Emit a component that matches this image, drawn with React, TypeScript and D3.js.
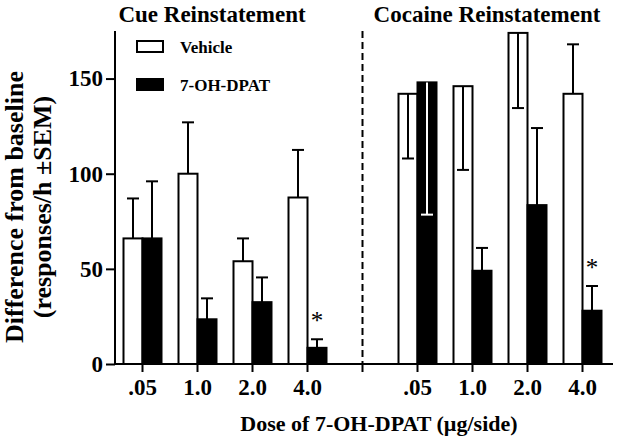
import React, { useEffect, useRef } from "react";
import * as d3 from "d3";

const doses = [".05", "1.0", "2.0", "4.0"];
const panels = ["Cue Reinstatement", "Cocaine Reinstatement"];

// Cue reinstatement
const cueVehicle = [66, 100, 54, 87.5];
const cueVehicleErr = [21, 27, 12, 25];
const cueDpat = [66, 23.5, 32.5, 8.5];
const cueDpatErr = [30, 11, 13, 4.5];

// Cocaine reinstatement (some error bars drawn downward)
const cocVehicle = [142, 146, 174, 142];
const cocVehicleErr = [34, 44, 39.5, 26];
const cocVehicleSide = ["down", "down", "down", "up"];
const cocDpat = [148, 49, 83.5, 28];
const cocDpatErr = [69.5, 12, 40.5, 13];
const cocDpatSide = ["down", "up", "up", "up"];

const cueDpatSig = [false, false, false, true];
const cocDpatSig = [false, false, false, true];

const yTicks = [0, 50, 100, 150];

const FONT = "'Liberation Serif', 'Times New Roman', serif";

export default function App() {
  const ref = useRef<SVGSVGElement>(null);

  useEffect(() => {
    const width = 619;
    const height = 440;
    const svg = d3.select(ref.current);
    svg.selectAll("*").remove();

    const slots = [
      ...doses.map(d => "cue" + d),
      "gap",
      ...doses.map(d => "coc" + d),
    ];

    const x = d3.scaleBand().domain(slots).range([115, 610]).padding(0);
    const y = d3.scaleLinear().domain([0, 175]).range([364, 31]);
    const barW = 19;

    const rows = [
      ...doses.map((d, i) => ({
        key: "cue" + d,
        veh: cueVehicle[i], vehErr: cueVehicleErr[i], vehSide: "up",
        dp: cueDpat[i], dpErr: cueDpatErr[i], dpSide: "up",
        sig: cueDpatSig[i],
      })),
      ...doses.map((d, i) => ({
        key: "coc" + d,
        veh: cocVehicle[i], vehErr: cocVehicleErr[i], vehSide: cocVehicleSide[i],
        dp: cocDpat[i], dpErr: cocDpatErr[i], dpSide: cocDpatSide[i],
        sig: cocDpatSig[i],
      })),
    ];

    const cx = (k: string) => (x(k) as number) + x.bandwidth() / 2;

    // bars
    const g = svg.append("g");
    g.selectAll("rect.veh")
      .data(rows)
      .join("rect")
      .attr("class", "veh")
      .attr("x", d => cx(d.key) - barW)
      .attr("y", d => y(d.veh))
      .attr("width", barW)
      .attr("height", d => y(0) - y(d.veh))
      .attr("fill", "white")
      .attr("stroke", "black")
      .attr("stroke-width", 2);

    g.selectAll("rect.dp")
      .data(rows)
      .join("rect")
      .attr("class", "dp")
      .attr("x", d => cx(d.key))
      .attr("y", d => y(d.dp))
      .attr("width", barW)
      .attr("height", d => y(0) - y(d.dp))
      .attr("fill", "black")
      .attr("stroke", "black")
      .attr("stroke-width", 2);

    // error bars
    const errs = rows.flatMap(d => [
      { xc: cx(d.key) - barW / 2, v: d.veh, e: d.vehErr, side: d.vehSide, color: "black" },
      {
        xc: cx(d.key) + barW / 2, v: d.dp, e: d.dpErr, side: d.dpSide,
        color: d.dpSide === "down" ? "white" : "black",
      },
    ]);
    const eg = svg.append("g").attr("stroke-width", 2);
    errs.forEach(d => {
      const end = d.side === "up" ? d.v + d.e : d.v - d.e;
      eg.append("line")
        .attr("x1", d.xc).attr("x2", d.xc)
        .attr("y1", y(d.v)).attr("y2", y(end))
        .attr("stroke", d.color);
      eg.append("line")
        .attr("x1", d.xc - 6).attr("x2", d.xc + 6)
        .attr("y1", y(end)).attr("y2", y(end))
        .attr("stroke", d.color);
    });

    // significance stars
    svg.append("g")
      .selectAll("text")
      .data(rows.filter(d => d.sig))
      .join("text")
      .attr("x", d => cx(d.key) + barW / 2)
      .attr("y", d => y(d.dp + d.dpErr) - 10)
      .attr("text-anchor", "middle")
      .attr("font-family", FONT)
      .attr("font-size", 25)
      .attr("fill", "black")
      .text("*");

    // dashed separator
    svg.append("line")
      .attr("x1", cx("gap")).attr("x2", cx("gap"))
      .attr("y1", y(175)).attr("y2", y(0))
      .attr("stroke", "black")
      .attr("stroke-width", 2)
      .attr("stroke-dasharray", "7,4");

    // y axis
    const yAxis = svg.append("g")
      .attr("transform", "translate(115,0)")
      .call(d3.axisLeft(y).tickValues(yTicks).tickSize(9).tickSizeOuter(0).tickPadding(3));
    yAxis.select(".domain").remove();
    yAxis.append("line")
      .attr("x1", 0).attr("x2", 0)
      .attr("y1", y(175)).attr("y2", y(0))
      .attr("stroke", "black").attr("stroke-width", 2);

    // x axis
    const xAxis = svg.append("g")
      .attr("transform", `translate(0,${y(0)})`)
      .call(
        d3.axisBottom(x)
          .tickSize(8)
          .tickSizeOuter(0)
          .tickPadding(7)
          .tickFormat(d => (d === "gap" ? "" : (d as string).slice(3)))
      );
    xAxis.select(".domain").remove();
    xAxis.append("line")
      .attr("x1", 114).attr("x2", 613)
      .attr("y1", 0).attr("y2", 0)
      .attr("stroke", "black").attr("stroke-width", 2);

    [yAxis, xAxis].forEach(a => {
      a.selectAll(".tick line").attr("stroke-width", 2);
      a.selectAll(".tick text")
        .attr("font-family", FONT)
        .attr("font-weight", "bold")
        .attr("font-size", 23)
        .attr("fill", "black");
    });

    // titles
    svg.append("g")
      .selectAll("text")
      .data(panels)
      .join("text")
      .attr("x", (d, i) => (i === 0 ? 212 : 487))
      .attr("y", 22)
      .attr("text-anchor", "middle")
      .attr("font-family", FONT)
      .attr("font-weight", "bold")
      .attr("font-size", 23)
      .text(d => d);

    // legend
    const legend = svg.append("g")
      .attr("font-family", FONT)
      .attr("font-weight", "bold")
      .attr("font-size", 17);
    [
      { label: "Vehicle", fill: "white", yy: 41 },
      { label: "7-OH-DPAT", fill: "black", yy: 79 },
    ].forEach(d => {
      legend.append("rect")
        .attr("x", 137).attr("y", d.yy)
        .attr("width", 26).attr("height", 11)
        .attr("fill", d.fill)
        .attr("stroke", "black")
        .attr("stroke-width", 2);
      legend.append("text")
        .attr("x", 180).attr("y", d.yy + 12)
        .text(d.label);
    });

    // axis labels
    const yl = svg.append("g")
      .attr("font-family", FONT)
      .attr("font-weight", "bold")
      .attr("font-size", 26)
      .attr("text-anchor", "middle");
    yl.append("text")
      .attr("transform", "translate(23,207) rotate(-90)")
      .text("Difference from baseline");
    yl.append("text")
      .attr("transform", "translate(51,207) rotate(-90)")
      .text("(responses/h \u00B1SEM)");

    svg.append("text")
      .attr("x", 379)
      .attr("y", 431)
      .attr("text-anchor", "middle")
      .attr("font-family", FONT)
      .attr("font-weight", "bold")
      .attr("font-size", 22)
      .text("Dose of 7-OH-DPAT (\u00B5g/side)");

    svg.attr("width", width).attr("height", height);
  }, []);

  return (
    <svg
      ref={ref}
      width={619}
      height={440}
      style={{ position: "absolute", left: 0, top: 0, background: "white" }}
    />
  );
}
